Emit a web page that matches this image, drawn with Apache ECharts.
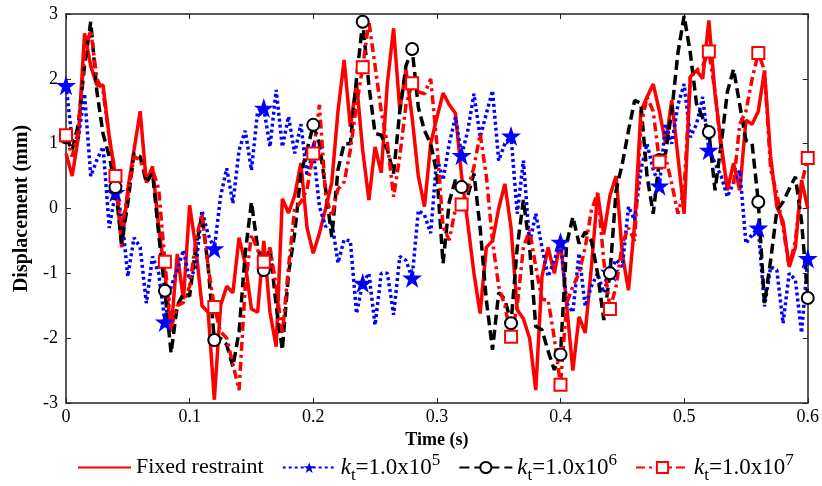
<!DOCTYPE html>
<html>
<head>
<meta charset="utf-8">
<script src="https://cdn.jsdelivr.net/npm/echarts@6/dist/echarts.min.js"></script>
<style>
  html, body { margin: 0; padding: 0; background: #fff; }
  #chart { width: 822px; height: 486px; }
</style>
</head>
<body>
<div id="chart"></div>
<script>
// time step 0.005 s, 0 .. 0.6 s
const step = 0.005;
const xTicks = ['0', '0.1', '0.2', '0.3', '0.4', '0.5', '0.6'];
const yTicks = ['-3', '-2', '-1', '0', '1', '2', '3'];

const fixedRestraint = [
  0.85, 0.5, 1.1, 2.7, 2.2, 1.9, 1.9, 1.1, 0.5, -0.6,
  0.3, 0.9, 1.5, 0.4, 0.65, -0.3, -1.0, -1.9, -0.7, -1.4,
  0.05, -0.6, -1.5, -1.6, -2.95, -1.5, -1.2, -1.3, -0.45, -0.85,
  -1.55, -1.6, -0.5, -1.6, -2.13, 0.15, -0.07, 0.2, 0.7, -0.3,
  -0.69, -0.38, 0.0, 0.4, 1.5, 2.29, 1.26, 1.94, 0.9, 0.13,
  0.95, 0.55, 1.94, 2.78, 1.52, 2.14, 1.4, 0.5, 0.03, 1.0,
  1.4, 1.78, 1.6, 1.47, 0.5, -0.23, -1.0, -1.62, -0.6, -0.5,
  0.0, 0.38, -0.3, -1.56, -1.7, -2.0, -2.8, -1.05, -0.6, -1.0,
  -0.5, -1.5, -2.5, -1.67, -1.92, -0.9, 0.23, -0.4, 0.2, 0.5,
  -0.7, -1.26, -0.23, 1.5, 1.72, 1.92, 1.5, 1.0, 1.67, 0.8,
  -0.08, 2.03, 2.13, 2.0, 2.9, 1.77, 1.0, 0.28, 0.7, 0.28,
  1.36, 1.3, 1.5, 2.13, 0.79, 0.03, -0.2, -0.9, -0.6, 0.44,
  0.0
];

const kt1e5 = [
  1.9, 1.05, 1.1, 1.77, 0.5, 0.75, 0.95, -0.3, 0.25, -0.1,
  -1.05, -0.45, -0.6, -1.46, -0.74, -1.0, -1.75, -1.2, -0.95, -0.64,
  -1.1, -0.9, -0.03, -0.4, -0.62, 0.18, 0.62, 0.08, 0.9, 1.2,
  0.59, 1.5, 1.55, 0.95, 1.83, 0.95, 1.42, 0.85, 1.3, 0.5,
  0.9, 0.03, -0.28, -0.2, -0.84, -0.48, -0.5, -1.62, -1.15, -1.0,
  -1.8, -1.0, -1.0, -1.64, -0.74, -0.8, -1.07, -0.03, -0.1, -0.38,
  0.79, 0.44, 1.0, 1.41, 0.82, 1.2, 1.77, 1.1, 1.46, 1.82,
  0.74, 1.0, 1.12, -0.08, 0.74, -0.54, -0.08, -0.6, -1.05, -0.8,
  -0.52, -1.46, -1.6, -0.69, -1.51, -1.2, -1.0, -1.3, -0.98, -0.79,
  -0.9, 0.03, -0.18, 0.6, 1.0, 0.6, 0.35, 1.31, 1.0, 1.6,
  1.92, 1.1, 1.3, 1.72, 0.9, 0.7, 0.5, 0.18, 0.4, 0.59,
  -0.54, -0.4, -0.3, -1.51, -0.9, -0.95, -1.77, -1.0, -1.1, -1.92,
  -0.77
];

const kt1e6 = [
  1.1, 0.9, 1.3, 2.2, 2.88, 1.8, 1.15, 0.8, 0.33, -0.54,
  0.08, 0.85, 0.8, 0.4, 0.55, -0.4, -1.27, -2.23, -1.5, -1.31,
  -1.35, -0.6, -0.1, -0.9, -2.03, -2.0, -2.1, -2.44, -1.9, -0.69,
  0.1, -0.6, -0.95, -0.6, -1.5, -2.18, -1.0, -0.38, 0.54, 0.9,
  1.29, 1.0, 0.3, -0.44, 0.6, 1.0, 1.0, 2.0, 2.88, 1.9,
  1.16, 1.13, 0.9, 0.54, 1.5, 2.2, 2.46, 1.56, 1.2, 1.0,
  0.54, -0.85, 0.1, 0.44, 0.33, 0.2, 0.54, -0.3, -1.41, -2.18,
  -1.3, -1.4, -1.77, -0.6, 0.13, -0.6, -1.82, -1.87, -2.2, -2.49,
  -2.25, -0.54, -0.13, -0.54, -0.36, -0.5, -1.0, -1.72, -1.0, 0.28,
  0.69, 1.2, 1.67, 1.62, 0.5, -0.08, 0.75, 0.85, 1.5, 2.4,
  2.97, 2.4, 1.62, 1.4, 1.18, 0.28, 1.0, 1.8, 2.15, 1.6,
  1.05, 1.0, 0.1, -1.46, -0.8, -0.03, 0.1, 0.3, 0.49, -0.2,
  -1.38
];

const kt1e7 = [
  1.13, 0.8, 1.2, 2.4, 2.75, 2.0, 1.8, 1.1, 0.5, -0.3,
  0.2, 0.8, 0.75, 0.5, 0.6, 0.3, -0.82, -1.85, -1.5, -1.45,
  -1.2, -0.5, -0.08, -0.9, -1.52, -1.9, -2.0, -2.4, -2.8, -1.2,
  -0.4, -0.64, -0.82, -0.6, -1.2, -1.94, -0.9, 0.0, 0.1, 0.3,
  0.85, 1.6, 0.2, -0.12, 0.3, 0.41, 0.9, 1.6, 2.18, 2.89,
  2.2, 1.5, 1.0, 0.18, 0.8, 1.6, 1.93, 1.8, 1.77, 2.0,
  1.0, -0.28, -0.49, 0.0, 0.06, 0.3, 0.64, 1.15, 0.5, -0.5,
  -1.2, -1.5, -1.98, -1.5, -0.6, -0.33, -0.9, -1.4, -1.41, -2.0,
  -2.72, -1.46, -1.2, -1.0, -0.6, -0.03, 0.24, -0.8, -1.55, -1.2,
  -0.54, -0.3, -0.5, 1.26, 1.72, 1.5, 0.72, 0.8, 0.38, -0.08,
  0.3, 2.03, 2.13, 2.2, 2.42, 1.8, 0.9, 0.33, 0.38, 1.3,
  1.5, 2.0, 2.4, 2.13, 0.6, 0.23, -0.3, -0.9, -0.5, 0.38,
  0.78
];

const markEvery = 8;   // a marker every 0.04 s
const serif = "'Liberation Serif', 'Times New Roman', serif";
const star = 'path://M50,0 L61.8,35.4 L99,35.4 L69,57.3 L80.4,92.7 L50,70.8 L19.6,92.7 L31,57.3 L1,35.4 L38.2,35.4 Z';

function pairs(vals){
  return vals.map(function(v, i){ return [+(i*step).toFixed(3), v]; });
}
function markSize(size){
  return function(val, params){ return params.dataIndex % markEvery === 0 ? size : 0; };
}

const legendText = {
  'Fixed restraint': 'Fixed restraint',
  'kt5': '{k|k}{sub|t}{n|=1.0x10}{sup|5}',
  'kt6': '{k|k}{sub|t}{n|=1.0x10}{sup|6}',
  'kt7': '{k|k}{sub|t}{n|=1.0x10}{sup|7}'
};

var frameAxis = { onZero: false, lineStyle: { color: '#222', width: 1.5 } };
var frameTick = { show: true, inside: true, length: 5, lineStyle: { color: '#222' } };

var myChart = echarts.init(document.getElementById('chart'));

var option = {
  backgroundColor: '#fff',
  animation: false,
  grid: { left: 66, right: 12, top: 14, bottom: 83 },
  legend: {
    left: 72, top: 447,
    itemWidth: 53, itemHeight: 14, itemGap: 18,
    data: [
      { name: 'Fixed restraint', itemStyle: { opacity: 0 } },
      'kt5', 'kt6', 'kt7'
    ],
    formatter: function(name){ return legendText[name]; },
    textStyle: {
      fontFamily: serif, fontSize: 22, color: '#000',
      rich: {
        k: { fontFamily: serif, fontSize: 23, fontStyle: 'italic', color: '#000' },
        sub: { fontFamily: serif, fontSize: 17, color: '#000', padding: [16, 0, 0, 0] },
        n: { fontFamily: serif, fontSize: 23, color: '#000' },
        sup: { fontFamily: serif, fontSize: 17, color: '#000', padding: [0, 0, 14, 0] }
      }
    }
  },
  xAxis: [
    {
      type: 'value', min: 0, max: 0.6, interval: 0.1,
      name: 'Time (s)', nameLocation: 'middle', nameGap: 28,
      nameTextStyle: { fontFamily: serif, fontSize: 18, fontWeight: 'bold', color: '#000' },
      axisLine: frameAxis, axisTick: frameTick,
      axisLabel: {
        fontFamily: serif, fontSize: 18, color: '#000', margin: 5,
        formatter: function(v){ return xTicks[Math.round(v*10)]; }
      },
      splitLine: { show: false }
    },
    {
      type: 'value', min: 0, max: 0.6, interval: 0.1, position: 'top',
      axisLine: frameAxis, axisTick: frameTick,
      axisLabel: { show: false }, splitLine: { show: false }
    }
  ],
  yAxis: [
    {
      type: 'value', min: -3, max: 3, interval: 1,
      name: 'Displacement (mm)', nameLocation: 'middle', nameGap: 34,
      nameTextStyle: { fontFamily: serif, fontSize: 20, fontWeight: 'bold', color: '#000' },
      axisLine: Object.assign({ show: true }, frameAxis), axisTick: frameTick,
      axisLabel: {
        fontFamily: serif, fontSize: 18, color: '#000', margin: 8,
        formatter: function(v){ return yTicks[v + 3]; }
      },
      splitLine: { show: false }
    },
    {
      type: 'value', min: -3, max: 3, interval: 1, position: 'right',
      axisLine: Object.assign({ show: true }, frameAxis), axisTick: frameTick,
      axisLabel: { show: false }, splitLine: { show: false }
    }
  ],
  series: [
    {
      name: 'Fixed restraint', type: 'line', data: pairs(fixedRestraint),
      symbol: 'none', color: '#ff0000',
      lineStyle: { color: '#ff0000', width: 3.5 }
    },
    {
      name: 'kt5', type: 'line', data: pairs(kt1e5),
      symbol: star, symbolSize: markSize(20), showAllSymbol: true, color: '#0000ff',
      itemStyle: { color: '#0000ff' },
      lineStyle: { color: '#0000ff', width: 3.5, type: [3, 3] }
    },
    {
      name: 'kt6', type: 'line', data: pairs(kt1e6),
      symbol: 'emptyCircle', symbolSize: markSize(12), showAllSymbol: true, color: '#000',
      itemStyle: { color: '#000', borderWidth: 2.5 },
      lineStyle: { color: '#000', width: 3.5, type: [10, 5] }
    },
    {
      name: 'kt7', type: 'line', data: pairs(kt1e7),
      symbol: 'emptyRect', symbolSize: markSize(12), showAllSymbol: true, color: '#ff0000',
      itemStyle: { color: '#ff0000', borderWidth: 2.5 },
      lineStyle: { color: '#ff0000', width: 3.5, type: [9, 4, 3, 4] }
    }
  ]
};

myChart.setOption(option);
</script>
</body>
</html>
